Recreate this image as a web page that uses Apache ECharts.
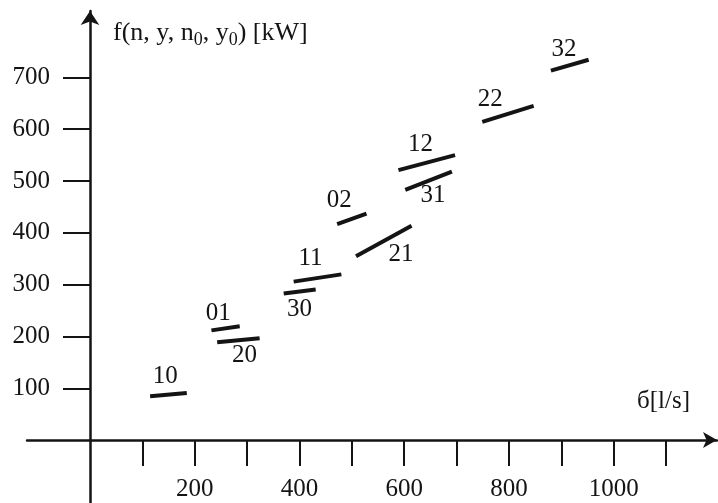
<!DOCTYPE html>
<html><head><meta charset="utf-8">
<script src="https://cdn.jsdelivr.net/npm/echarts@6/dist/echarts.min.js"></script>
<style>html,body{margin:0;padding:0;background:#fff}#c{width:718px;height:503px}</style>
</head><body><div id="c"></div>
<script>
// segment names and endpoints (data units)
const segNames  = ['10','01','20','30','11','02','21','12','31','22','32'];
const segStartX = [115, 232, 243, 370, 389, 472, 508, 589, 602, 749, 880];
const segStartY = [ 85, 212, 189, 283, 306, 417, 355, 521, 483, 614, 713];
const segEndX   = [185, 286, 324, 431, 480, 528, 614, 697, 691, 847, 952];
const segEndY   = [ 91, 220, 197, 291, 320, 437, 414, 550, 518, 645, 734];
// label anchor positions (data units)
const labelX = [145, 246, 296, 401, 422, 477, 595, 632, 656, 765, 906];
const labelY = [123, 243, 162, 251, 349, 461, 357, 570, 471, 656, 753];
// axis ticks and labels
const xTickValues  = [100,200,300,400,500,600,700,800,900,1000,1100];
const xLabelValues = [200,400,600,800,1000];
const yTickValues  = [100,200,300,400,500,600,700];
const yLabelValues = [100,200,300,400,500,600,700];

const FONT = '"Liberation Serif", "DejaVu Serif", serif';
const INK = '#141414';

const chart = echarts.init(document.getElementById('c'), null, {renderer: 'canvas'});

const segSeries = segNames.map((n, i) => ({
  type: 'line',
  name: n,
  data: [[segStartX[i], segStartY[i]], [segEndX[i], segEndY[i]]],
  symbol: 'none',
  silent: true,
  lineStyle: {color: INK, width: 4, cap: 'butt'}
}));

chart.setOption({
  animation: false,
  backgroundColor: '#fff',
  grid: {left: 27, right: 1, top: 11, bottom: 0, containLabel: false, outerBoundsMode: 'none'},
  title: {
    text: '{a|f(n, y, n}{s|0}{a|, y}{s|0}{a|) [kW]}',
    left: 108, top: 13,
    textStyle: {
      fontWeight: 'normal',
      rich: {
        a: {fontFamily: FONT, fontSize: 26, fontWeight: 'normal', color: INK, lineHeight: 31},
        s: {fontFamily: FONT, fontSize: 18, fontWeight: 'normal', color: INK, lineHeight: 18, padding: [13, 0, 0, 0]}
      }
    }
  },
  graphic: [{
    type: 'text', left: 637, top: 389,
    style: {text: 'б[l/s]', font: '25px "Liberation Serif"', fill: INK}
  }],
  xAxis: {
    type: 'value', min: -120, max: 1197, position: 'bottom', offset: -63,
    axisLine: {onZero: false, symbol: ['none', 'arrow'], symbolSize: [12, 14],
      lineStyle: {color: INK, width: 2.5}},
    axisTick: {show: true, length: 26, customValues: xTickValues,
      lineStyle: {color: INK, width: 2}},
    axisLabel: {customValues: xLabelValues, margin: 37, fontSize: 25,
      fontFamily: FONT, color: INK, formatter: v => String(v)},
    splitLine: {show: false}
  },
  yAxis: {
    type: 'value', min: -121, max: 828, position: 'left', offset: -63,
    axisLine: {onZero: false, symbol: ['none', 'arrow'], symbolSize: [14, 14],
      lineStyle: {color: INK, width: 2.5}},
    axisTick: {show: true, length: 27, customValues: yTickValues,
      lineStyle: {color: INK, width: 2}},
    axisLabel: {customValues: yLabelValues, margin: 40, fontSize: 25,
      fontFamily: FONT, color: INK, formatter: v => String(v)},
    splitLine: {show: false}
  },
  series: segSeries.concat([{
    type: 'scatter',
    symbolSize: 1,
    silent: true,
    itemStyle: {opacity: 0},
    data: labelX.map((x, i) => ({name: segNames[i], value: [x, labelY[i]]})),
    label: {show: true, position: [0, 0], align: 'center', verticalAlign: 'middle',
      formatter: '{b}', fontSize: 25, fontFamily: FONT, color: INK, opacity: 1,
      textBorderWidth: 0}
  }])
});
</script></body></html>
